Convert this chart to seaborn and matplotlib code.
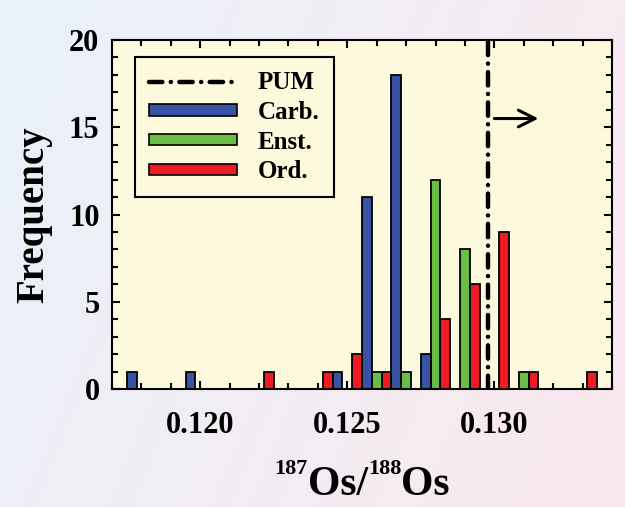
import numpy as np
import pandas as pd
import matplotlib
matplotlib.use("Agg")
import matplotlib.pyplot as plt
from matplotlib.patches import Patch
from matplotlib.lines import Line2D
from matplotlib.ticker import MultipleLocator, FormatStrFormatter
import seaborn as sns

# 187Os/188Os bin centres (bin width 0.001) and counts per group
bin_centers = [0.118, 0.119, 0.120, 0.121, 0.122, 0.123, 0.124, 0.125,
               0.126, 0.127, 0.128, 0.129, 0.130, 0.131, 0.132, 0.133]
carb_counts = [1, 0, 1, 0, 0, 0, 0, 1, 11, 18, 2, 0, 0, 0, 0, 0]
enst_counts = [0, 0, 0, 0, 0, 0, 0, 0, 1, 1, 12, 8, 0, 1, 0, 0]
ord_counts = [0, 0, 0, 0, 1, 0, 1, 2, 1, 0, 4, 6, 9, 1, 0, 1]
groups = ["Carb.", "Enst.", "Ord."]
pum_value = 0.1298
x_ticks = [0.120, 0.125, 0.130]
y_ticks = [0, 5, 10, 15, 20]

colors = {"Carb.": "#3853A4", "Enst.": "#6ABD45", "Ord.": "#ED1C24"}

df = pd.concat([
    pd.DataFrame({"ratio": bin_centers, "count": c, "group": g})
    for g, c in zip(groups, [carb_counts, enst_counts, ord_counts])
], ignore_index=True)

sns.set_theme(style="ticks")
plt.rcParams["font.family"] = ["Liberation Serif", "DejaVu Serif"]
plt.rcParams["font.weight"] = "bold"
for key in ["text.color", "axes.labelcolor", "xtick.color", "ytick.color",
            "axes.edgecolor"]:
    plt.rcParams[key] = "black"

W, H = 625, 507
fig = plt.figure(figsize=(W / 100, H / 100), dpi=100)

# soft diagonal background wash
bg = fig.add_axes([0, 0, 1, 1], zorder=-10)
gx, gy = np.meshgrid(np.linspace(0, 1, 300), np.linspace(0, 1, 250))
t = np.clip(0.75 * gx + 0.25 * gy, 0, 1)[..., None]
c0 = np.array([233, 241, 249]) / 255
c1 = np.array([250, 233, 238]) / 255
bg.imshow(c0 * (1 - t) + c1 * t, aspect="auto", origin="upper",
          extent=[0, 1, 0, 1])
bg.set_axis_off()

ax = fig.add_axes([112 / W, 1 - 389 / H, 500 / W, 349 / H])
ax.set_facecolor("#FCF9DC")

sns.histplot(data=df, x="ratio", weights="count", hue="group",
             hue_order=groups, palette=colors, binwidth=0.001,
             binrange=(0.1175, 0.1335), multiple="dodge", shrink=1.0,
             alpha=1.0, edgecolor="black", linewidth=1.3, legend=False,
             ax=ax)

pum_line = ax.axvline(pum_value, color="black", lw=3.2,
                      dash_capstyle="round", zorder=5)
pum_line.set_dashes((3.0, 1.9, 0.03, 1.9))

ax.annotate("", xy=(0.1315, 15.5), xytext=(0.1300, 15.5),
            arrowprops=dict(arrowstyle="->", lw=2.2, color="black",
                            mutation_scale=30, shrinkA=0, shrinkB=0))

ax.set_xlim(0.117, 0.134)
ax.set_ylim(0, 20)
ax.xaxis.set_minor_locator(MultipleLocator(0.001))
ax.xaxis.set_major_formatter(FormatStrFormatter("%.3f"))
ax.yaxis.set_minor_locator(MultipleLocator(1))
ax.set_xticks(x_ticks)
ax.set_yticks(y_ticks)
ax.set_xlabel("")
ax.set_ylabel("")

ax.tick_params(which="both", direction="in", top=True, right=True,
               width=1.5, color="black")
ax.tick_params(which="major", length=6, labelsize=22)
ax.tick_params(which="minor", length=4)
ax.tick_params(axis="x", which="major", pad=16)
ax.tick_params(axis="y", which="major", pad=9)
for lab in ax.get_xticklabels() + ax.get_yticklabels():
    lab.set_fontweight("bold")
for sp in ax.spines.values():
    sp.set_linewidth(1.5)
    sp.set_color("black")

# y-axis title
fig.text(34 / W, 1 - 214.5 / H, "Frequency", rotation=90, ha="center",
         va="center", fontsize=28, fontweight="bold")

# x-axis title: 187Os/188Os with small raised mass numbers
pieces = [("187", 16, True), ("Os/", 30, False), ("188", 16, True),
          ("Os", 30, False)]
renderer = fig.canvas.get_renderer()
base_y = 12 / H
sup_y = 33 / H
texts, widths = [], []
for s, size, sup in pieces:
    tx = fig.text(0, sup_y if sup else base_y, s, fontsize=size,
                  fontweight="bold", ha="left", va="baseline")
    texts.append(tx)
    widths.append(tx.get_window_extent(renderer).width)
x0 = (112 + 250) - sum(widths) / 2
for tx, w in zip(texts, widths):
    tx.set_x(x0 / W)
    x0 += w

pum_handle = Line2D([], [], color="black", lw=3.2, dash_capstyle="round")
pum_handle.set_dashes((3.0, 1.9, 0.03, 1.9))
handles = [pum_handle] + [
    Patch(facecolor=colors[g], edgecolor="black", linewidth=1.2)
    for g in groups
]
leg = ax.legend(handles, ["PUM"] + groups, loc="upper left",
                bbox_to_anchor=(0.046, 0.951), borderaxespad=0,
                prop={"family": "Liberation Serif", "weight": "bold",
                      "size": 18},
                handlelength=3.5, handleheight=0.32, handletextpad=0.85,
                labelspacing=0.27, borderpad=0.56, fancybox=False,
                frameon=True)
leg.get_frame().set_edgecolor("black")
leg.get_frame().set_linewidth(1.5)
leg.get_frame().set_facecolor("#FCF9DC")
leg.get_frame().set_alpha(1.0)

fig.savefig("out.png", dpi=100)
